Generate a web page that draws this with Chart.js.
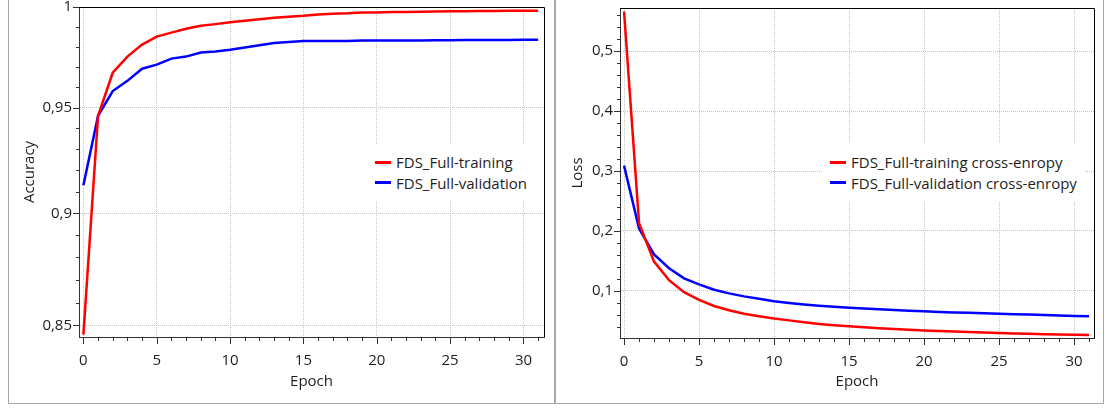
<!DOCTYPE html>
<html>
<head>
<meta charset="utf-8">
<title>FDS_Full accuracy / loss</title>
<script src="https://cdn.jsdelivr.net/npm/chart.js@4.4.1/dist/chart.umd.min.js"></script>
<style>
  body { margin: 0; background: #fff; font-family: "Open Sans", sans-serif; }
  #wrap { position: relative; width: 1105px; height: 410px; overflow: hidden; }
  .panel { position: absolute; top: -1px; height: 405px; border: 1px solid #a8a8a8; box-sizing: border-box; }
  #panelLeft { left: 8px; width: 547px; }
  #panelRight { left: 555px; width: 549px; }
  canvas { position: absolute; top: 0; }
  .legend { position: absolute; top: 144px; background: #fff; padding: 8px 8px; font-size: 15px; color: #1e1e1e; line-height: 20.5px; white-space: nowrap; }
  .legend .row { display: flex; align-items: center; }
  .legend .swatch { display: inline-block; width: 16px; height: 3px; margin-right: 5px; }
</style>
</head>
<body>
<div id="wrap">
  <div class="panel" id="panelLeft"></div>
  <div class="panel" id="panelRight"></div>
  <canvas id="accChart" width="545" height="401" style="left:9px"></canvas>
  <canvas id="lossChart" width="546" height="401" style="left:556px"></canvas>
  <div class="legend" id="accLegend" style="left:367px"></div>
  <div class="legend" id="lossLegend" style="left:823px; padding-left:7px"></div>
</div>
<script>
// values
const epochs = [0, 1, 2, 3, 4, 5, 6, 7, 8, 9, 10, 11, 12, 13, 14, 15,
                16, 17, 18, 19, 20, 21, 22, 23, 24, 25, 26, 27, 28, 29, 30, 31];

const accTraining = [0.846, 0.946, 0.967, 0.975, 0.981, 0.985, 0.987, 0.989, 0.9905, 0.9913,
                     0.9922, 0.9930, 0.9938, 0.9945, 0.9950, 0.9955, 0.9962, 0.9966, 0.9968, 0.9972,
                     0.9972, 0.9974, 0.9975, 0.9976, 0.9977, 0.9978, 0.9978, 0.9979, 0.9980, 0.9981,
                     0.9981, 0.9981];
const accValidation = [0.913, 0.946, 0.958, 0.963, 0.969, 0.971, 0.974, 0.975, 0.977, 0.9776,
                       0.9784, 0.9795, 0.9807, 0.9818, 0.9823, 0.9828, 0.9828, 0.9828, 0.9828, 0.9830,
                       0.9830, 0.9830, 0.9830, 0.9830, 0.9832, 0.9832, 0.9833, 0.9833, 0.9833, 0.9833,
                       0.9834, 0.9834];

const lossTraining = [0.566, 0.213, 0.149, 0.118, 0.098, 0.085, 0.075, 0.068, 0.062, 0.058,
                      0.054, 0.051, 0.048, 0.045, 0.043, 0.041, 0.0395, 0.038, 0.0365, 0.0353,
                      0.0343, 0.0333, 0.0324, 0.0316, 0.0307, 0.0299, 0.0292, 0.0286, 0.028, 0.0274,
                      0.0269, 0.0264];
const lossValidation = [0.309, 0.204, 0.161, 0.138, 0.121, 0.111, 0.102, 0.096, 0.091, 0.087,
                        0.083, 0.080, 0.0775, 0.0755, 0.0738, 0.0722, 0.0708, 0.0695, 0.0683, 0.0671,
                        0.066, 0.0651, 0.0643, 0.0635, 0.0628, 0.0622, 0.0614, 0.0606, 0.0598, 0.059,
                        0.0583, 0.0577];

const epochTicks = [0, 5, 10, 15, 20, 25, 30];
const accTicks = [0.85, 0.9, 0.95, 1];
const lossTicks = [0.1, 0.2, 0.3, 0.4, 0.5];

const FONT = '"Open Sans", sans-serif';
const TEXT = '#1e1e1e';
const GRID = '#c2c2c2';

// major/minor tick marks + black frame on top/right
const frameTicks = {
    id: 'frameTicks',
    afterDraw(chart, args, opts) {
        const { ctx, chartArea: a, scales: { x, y } } = chart;
        ctx.save();
        ctx.lineWidth = 1;
        ctx.strokeStyle = '#000';
        ctx.beginPath();
        ctx.moveTo(a.left, Math.round(a.top) + 0.5);
        ctx.lineTo(Math.round(a.right) + 0.5, Math.round(a.top) + 0.5);
        ctx.lineTo(Math.round(a.right) + 0.5, a.bottom);
        ctx.stroke();

        ctx.strokeStyle = '#333';
        ctx.beginPath();
        for (let e = Math.ceil(x.min); e <= Math.floor(x.max); e++) {
            const px = Math.round(x.getPixelForValue(e)) + 0.5;
            const len = e % 5 === 0 ? 7 : 4;
            ctx.moveTo(px, a.bottom);
            ctx.lineTo(px, a.bottom + len);
        }
        const n = Math.round((opts.to - opts.from) / opts.step);
        for (let i = 0; i <= n; i++) {
            const v = +(opts.from + i * opts.step).toFixed(4);
            if (v < y.min || v > y.max) continue;
            const py = Math.round(y.getPixelForValue(v)) + 0.5;
            const major = opts.major.includes(v);
            ctx.moveTo(a.left, py);
            ctx.lineTo(a.left - (major ? 6 : 3), py);
        }
        ctx.stroke();
        ctx.restore();
    }
};

function commaLabel(v) {
    return String(v).replace('.', ',');
}

function makeChart(id, cfg) {
    const ctx = document.getElementById(id);
    return new Chart(ctx, {
        type: 'line',
        data: {
            datasets: [
                {
                    label: cfg.labels[0],
                    data: epochs.map((e, i) => ({ x: e, y: cfg.series[0][i] })),
                    borderColor: '#ff0000',
                    borderWidth: 2.5,
                    pointRadius: 0,
                    tension: 0
                },
                {
                    label: cfg.labels[1],
                    data: epochs.map((e, i) => ({ x: e, y: cfg.series[1][i] })),
                    borderColor: '#0000ff',
                    borderWidth: 2.5,
                    pointRadius: 0,
                    tension: 0
                }
            ]
        },
        options: {
            responsive: false,
            animation: false,
            events: [],
            layout: { padding: cfg.padding },
            plugins: {
                legend: { display: false },
                tooltip: { enabled: false },
                frameTicks: { from: cfg.minorFrom, to: cfg.minorTo, step: cfg.minorStep, major: cfg.yTicks }
            },
            scales: {
                x: {
                    type: 'linear',
                    min: cfg.xMin,
                    max: cfg.xMax,
                    afterBuildTicks: s => { s.ticks = epochTicks.map(v => ({ value: v })); },
                    afterFit: s => { s.height = cfg.xHeight; s.paddingLeft = 0; s.paddingRight = 0; },
                    ticks: { color: TEXT, font: { family: FONT, size: 15 }, padding: 15, maxRotation: 0 },
                    grid: { color: GRID, drawTicks: false },
                    border: { color: '#333', dash: [1, 1] },
                    title: { display: true, text: 'Epoch', color: TEXT, font: { family: FONT, size: 15 }, padding: { top: 0, bottom: 10.5 } }
                },
                y: {
                    type: cfg.yType,
                    min: cfg.yMin,
                    max: cfg.yMax,
                    afterBuildTicks: s => { s.ticks = cfg.yTicks.map(v => ({ value: v })); },
                    afterFit: s => { s.width = cfg.yWidth; s.paddingTop = 0; s.paddingBottom = 0; },
                    ticks: { color: TEXT, font: { family: FONT, size: 15 }, padding: 7, callback: v => commaLabel(v) },
                    grid: { color: GRID, drawTicks: false },
                    border: { color: '#333', dash: [1, 1] },
                    title: { display: true, text: cfg.yTitle, color: TEXT, font: { family: FONT, size: 15 }, padding: { top: cfg.yTitlePad, bottom: 0 } }
                }
            }
        },
        plugins: [frameTicks]
    });
}

function buildLegend(elId, chart) {
    const el = document.getElementById(elId);
    chart.data.datasets.forEach(ds => {
        const row = document.createElement('div');
        row.className = 'row';
        const sw = document.createElement('span');
        sw.className = 'swatch';
        sw.style.background = ds.borderColor;
        const txt = document.createElement('span');
        txt.textContent = ds.label;
        row.append(sw, txt);
        el.appendChild(row);
    });
}

const accChart = makeChart('accChart', {
    labels: ['FDS_Full-training', 'FDS_Full-validation'],
    series: [accTraining, accValidation],
    yType: 'logarithmic', yMin: 0.845, yMax: 1, yTicks: accTicks, yTitle: 'Accuracy',
    minorFrom: 0.85, minorTo: 1, minorStep: 0.01,
    xMin: -0.3, xMax: 31.4,
    padding: { top: 7, right: 10, left: 0, bottom: 0 },
    xHeight: 64, yWidth: 70, yTitlePad: 12
});

const lossChart = makeChart('lossChart', {
    labels: ['FDS_Full-training cross-enropy', 'FDS_Full-validation cross-enropy'],
    series: [lossTraining, lossValidation],
    yType: 'linear', yMin: 0.0216, yMax: 0.5718, yTicks: lossTicks, yTitle: 'Loss',
    minorFrom: 0.04, minorTo: 0.56, minorStep: 0.02,
    xMin: -0.27, xMax: 31.33,
    padding: { top: 8, right: 8, left: 0, bottom: 0 },
    xHeight: 63, yWidth: 64, yTitlePad: 13
});

buildLegend('accLegend', accChart);
buildLegend('lossLegend', lossChart);
</script>
</body>
</html>
